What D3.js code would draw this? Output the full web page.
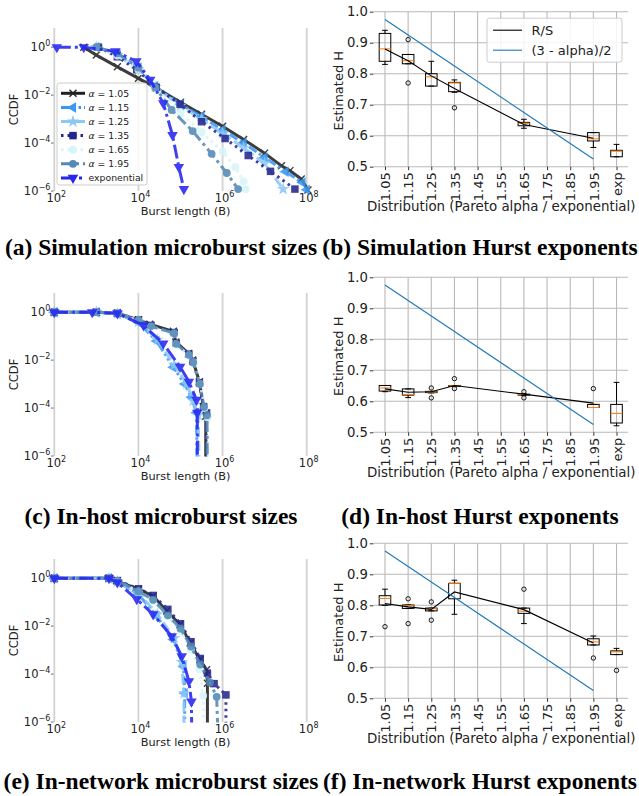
<!DOCTYPE html>
<html>
<head>
<meta charset="utf-8">
<script src="https://cdn.jsdelivr.net/npm/d3@7"></script>
<style>
body { margin: 0; background: #fff; }
svg { display: block; font-family: "DejaVu Sans", sans-serif; }
</style>
</head>
<body>
<div id="canvas"></div>
<script>
// ---------- data ----------
// legend entries of the CCDF plots
const alphaLabels = ["1.05", "1.15", "1.25", "1.35", "1.65", "1.95"];
const expLabel = "exponential";

// CCDF curves as [log10(burst length), log10(CCDF)]
// order: a=1.05, 1.15, 1.25, 1.35, 1.65, 1.95, exponential
const simCurves = [
  [[2.7,0],[3.0,-0.33],[3.5,-0.82],[4.0,-1.3],[4.43,-1.71],[5.0,-2.3],[5.5,-2.8],[6.0,-3.3],[6.5,-3.85],[7.0,-4.42],[7.4,-4.95],[7.6,-5.15],[7.87,-5.5],[8.03,-5.96]],
  [[3.0,0],[3.5,-0.28],[4.0,-0.85],[4.4,-1.62],[5.0,-2.38],[5.5,-2.9],[6.0,-3.45],[6.5,-4.0],[7.0,-4.6],[7.5,-5.2],[7.9,-5.65],[8.0,-5.95]],
  [[3.0,0],[3.5,-0.33],[4.0,-0.92],[4.4,-1.66],[5.0,-2.45],[5.5,-3.0],[6.0,-3.6],[6.5,-4.2],[7.0,-4.85],[7.44,-5.92]],
  [[3.05,0],[3.5,-0.4],[3.96,-0.94],[4.42,-1.67],[4.99,-2.38],[5.5,-3.11],[6.06,-3.81],[6.61,-4.52],[7.14,-5.18],[7.72,-5.92]],
  [[3.0,0],[3.5,-0.35],[4.0,-0.95],[4.4,-1.7],[5.0,-2.75],[5.5,-3.55],[6.0,-4.35],[6.3,-5.0],[6.5,-5.6],[6.55,-5.92]],
  [[3.0,0],[3.5,-0.25],[4.0,-0.85],[4.4,-1.68],[4.79,-2.62],[5.29,-3.5],[5.74,-4.45],[6.1,-5.25],[6.37,-5.92]],
  [[2.06,0],[2.7,0],[3.45,-0.17],[3.95,-0.59],[4.28,-1.36],[4.59,-2.34],[4.81,-3.67],[4.96,-5.0],[5.08,-5.92]]
];
const hostCurves = [
  [[2.0,0],[3.0,0],[3.5,-0.04],[4.0,-0.32],[4.27,-0.5],[4.83,-0.8],[4.89,-1.24],[5.19,-1.72],[5.29,-2.0],[5.45,-2.9],[5.54,-3.93],[5.6,-4.34],[5.6,-7]],
  [[2.0,0],[3.0,0],[3.5,-0.06],[4.0,-0.42],[4.43,-1.2],[4.83,-2.3],[5.1,-3.0],[5.26,-3.55],[5.38,-4.2],[5.4,-7]],
  [[2.0,0],[3.0,0],[3.5,-0.06],[4.0,-0.4],[4.45,-1.15],[4.85,-2.2],[5.15,-3.0],[5.3,-3.7],[5.42,-4.3],[5.45,-7]],
  [[2.0,0],[3.0,0],[3.5,-0.04],[4.0,-0.33],[4.3,-0.55],[4.85,-0.85],[4.9,-1.3],[5.2,-1.75],[5.3,-2.05],[5.45,-2.95],[5.55,-3.95],[5.62,-4.2],[5.62,-7]],
  [[2.0,0],[3.0,0],[3.5,-0.04],[4.0,-0.35],[4.3,-0.6],[4.85,-0.9],[4.9,-1.35],[5.2,-1.8],[5.32,-2.1],[5.47,-3.0],[5.57,-4.0],[5.65,-4.4],[5.66,-7]],
  [[2.0,0],[3.0,0],[3.5,-0.05],[4.0,-0.35],[4.3,-0.58],[4.85,-0.88],[4.9,-1.32],[5.2,-1.78],[5.3,-2.1],[5.46,-3.0],[5.56,-3.95],[5.63,-4.3],[5.64,-7]],
  [[2.0,0],[2.9,0],[3.5,-0.05],[4.12,-0.55],[4.59,-1.31],[4.99,-2.28],[5.2,-2.9],[5.38,-3.66],[5.4,-4.2],[5.4,-7]]
];
const netCurves = [
  [[2.0,0],[3.3,0],[3.48,-0.11],[4.0,-0.46],[4.35,-0.74],[4.67,-1.37],[4.99,-1.93],[5.23,-2.7],[5.46,-3.4],[5.62,-3.82],[5.64,-4.38],[5.64,-7]],
  [[2.0,0],[3.3,0],[3.5,-0.15],[4.0,-0.67],[4.43,-1.58],[4.83,-2.56],[5.07,-3.68],[5.1,-4.8],[5.1,-7]],
  [[2.0,0],[3.3,0],[3.5,-0.15],[4.0,-0.62],[4.45,-1.5],[4.85,-2.5],[5.03,-3.5],[5.08,-4.8],[5.08,-7]],
  [[2.0,0],[3.3,0],[3.5,-0.1],[4.0,-0.44],[4.35,-0.72],[4.7,-1.3],[5.0,-1.9],[5.25,-2.65],[5.47,-3.35],[5.64,-3.96],[5.8,-4.4],[6.08,-4.87],[6.08,-7]],
  [[2.0,0],[3.3,0],[3.5,-0.12],[4.0,-0.55],[4.35,-0.95],[4.7,-1.6],[5.0,-2.2],[5.25,-3.0],[5.45,-3.8],[5.54,-4.9],[5.56,-7]],
  [[2.0,0],[3.3,0],[3.5,-0.12],[4.0,-0.55],[4.35,-0.9],[4.7,-1.55],[5.0,-2.1],[5.25,-2.85],[5.47,-3.6],[5.7,-4.35],[5.86,-4.95],[5.9,-7]],
  [[2.0,0],[3.3,0],[3.5,-0.18],[3.96,-0.88],[4.35,-1.51],[4.79,-2.42],[5.03,-3.26],[5.2,-4.3],[5.26,-5.15],[5.27,-7]]
];
const ccdfXTicks = [2, 4, 6, 8];      // exponents
const ccdfYTicks = [0, -2, -4, -6];

// Hurst boxplots
const boxPositions = [1.05, 1.15, 1.25, 1.35, 1.65, 1.95, 2.05];
const hurstTickPos = [1.05, 1.15, 1.25, 1.35, 1.45, 1.55, 1.65, 1.75, 1.85, 1.95, 2.05];
const hurstTickLabels = ["1.05", "1.15", "1.25", "1.35", "1.45", "1.55", "1.65", "1.75", "1.85", "1.95", "exp"];
const hurstYTicks = [0.5, 0.6, 0.7, 0.8, 0.9, 1.0];
const theoryAlphas = [1.05, 1.15, 1.25, 1.35, 1.65, 1.95];
const theoryH = [0.975, 0.925, 0.875, 0.825, 0.675, 0.525];

// each box: [whisker low, q1, median, q3, whisker high]
const simBoxes = [
  [0.83, 0.84, 0.88, 0.93, 0.94],
  [0.832, 0.832, 0.842, 0.862, 0.862],
  [0.76, 0.76, 0.79, 0.80, 0.84],
  [0.74, 0.742, 0.77, 0.772, 0.78],
  [0.624, 0.632, 0.64, 0.643, 0.653],
  [0.562, 0.583, 0.59, 0.61, 0.61],
  [0.532, 0.532, 0.55, 0.553, 0.572]
];
const simOutliers = [[], [0.91, 0.77], [], [0.69], [], [], []];
const simRS = [0.88, 0.842, 0.793, 0.752, 0.636, 0.592];

const hostBoxes = [
  [0.631, 0.633, 0.643, 0.651, 0.651],
  [0.612, 0.62, 0.622, 0.64, 0.64],
  [0.627, 0.628, 0.63, 0.632, 0.632],
  [0.648, 0.648, 0.65, 0.651, 0.651],
  [0.619, 0.62, 0.622, 0.623, 0.624],
  [0.58, 0.58, 0.58, 0.59, 0.59],
  [0.521, 0.53, 0.561, 0.59, 0.661]
];
const hostOutliers = [[], [], [0.643, 0.611], [0.673, 0.641], [0.631, 0.611], [0.641], []];
const hostRS = [0.64, 0.629, 0.631, 0.651, 0.623, 0.594];

const netBoxes = [
  [0.80, 0.801, 0.822, 0.831, 0.852],
  [0.79, 0.79, 0.799, 0.801, 0.801],
  [0.782, 0.782, 0.789, 0.791, 0.791],
  [0.771, 0.821, 0.871, 0.871, 0.881],
  [0.741, 0.774, 0.781, 0.791, 0.791],
  [0.672, 0.672, 0.682, 0.692, 0.701],
  [0.641, 0.641, 0.65, 0.653, 0.661]
];
const netOutliers = [[0.731], [0.821, 0.741], [0.811, 0.752], [], [0.852], [0.63], [0.59]];
const netRS = [0.806, 0.795, 0.787, 0.843, 0.786, 0.678];

const captions = [
  ["(a) Simulation microburst sizes", "(b) Simulation Hurst exponents"],
  ["(c) In-host microburst sizes", "(d) In-host Hurst exponents"],
  ["(e) In-network microburst sizes", "(f) In-network Hurst exponents"]
];

// ---------- styles / layout ----------
const seriesStyle = [
  { color: "#222222", dash: null, marker: "x" },
  { color: "#3a97f5", dash: "9,3,2.5,3,2.5,3", marker: "<" },
  { color: "#8cc8f5", dash: "10,4", marker: "*" },
  { color: "#25258f", dash: "2.5,4", marker: "s" },
  { color: "#d6f5f9", dash: "2.5,4", marker: "o" },
  { color: "#5389b7", dash: "11,4,3,4", marker: "o" },
  { color: "#2626f2", dash: "14,4,3,4", marker: "v" }
];
const ccdfTops = [28, 293, 559];
const ccdfH = 163;
const boxTops = [11.7, 277.3, 543.3];
const boxH = 155;
const captionBase = [255, 524, 789];
const captionX = [161, 480];

const W = 639, H = 796;
const svg = d3.select("#canvas").append("svg")
  .attr("width", W)
  .attr("height", H);

function drawMarker(g, type, cx, cy, color) {
  if (type === "x") {
    const s = 3.5;
    g.append("path")
      .attr("d", `M${cx - s},${cy - s}L${cx + s},${cy + s}M${cx - s},${cy + s}L${cx + s},${cy - s}`)
      .attr("stroke", color)
      .attr("stroke-width", 1.4)
      .attr("fill", "none");
    return;
  }
  let sym = d3.symbolCircle, size = 48, rot = 0;
  if (type === "<") { sym = d3.symbolTriangle; size = 48; rot = -90; }
  if (type === "v") { sym = d3.symbolTriangle; size = 48; rot = 180; }
  if (type === "s") { sym = d3.symbolSquare; size = 56; }
  if (type === "*") { sym = d3.symbolStar; size = 50; }
  g.append("path")
    .attr("d", d3.symbol(sym, size)())
    .attr("transform", `translate(${cx},${cy}) rotate(${rot})`)
    .attr("fill", color);
}

function powLabel(text, e) {
  text.append("tspan").text("10");
  text.append("tspan")
    .attr("dy", -5)
    .attr("font-size", 8)
    .text(e < 0 ? "\u2212" + (-e) : e);
}

function drawCcdf(row, curves, withLegend) {
  const top = ccdfTops[row];
  const bottom = top + ccdfH;
  const x = d3.scaleLog().domain([1e2, 1e8]).range([54.3, 306.7]);
  const y = d3.scaleLog().domain([1e-6, Math.pow(10, 0.8)]).range([bottom, top]);
  const g = svg.append("g");

  const clipId = "clip" + row;
  g.append("clipPath").attr("id", clipId)
    .append("rect")
    .attr("x", 40).attr("y", top)
    .attr("width", 290).attr("height", ccdfH + 0.5);

  // vertical grid
  g.selectAll(".vgrid")
    .data(ccdfXTicks)
    .enter().append("line")
    .attr("x1", d => x(Math.pow(10, d)))
    .attr("x2", d => x(Math.pow(10, d)))
    .attr("y1", top)
    .attr("y2", bottom)
    .attr("stroke", "#d2d2d2")
    .attr("stroke-width", 1.8);

  // y ticks + labels
  ccdfYTicks.forEach(e => {
    const yy = y(Math.pow(10, e));
    g.append("line")
      .attr("x1", 51).attr("x2", 53.5)
      .attr("y1", yy).attr("y2", yy)
      .attr("stroke", "#444").attr("stroke-width", 0.8);
    const t = g.append("text")
      .attr("x", 50.3).attr("y", yy + 3.6)
      .attr("text-anchor", "end")
      .attr("font-size", 11.5)
      .attr("fill", "#222");
    powLabel(t, e);
  });
  ccdfXTicks.forEach(e => {
    const t = g.append("text")
      .attr("x", x(Math.pow(10, e)) + 2)
      .attr("y", bottom + 10.5)
      .attr("text-anchor", "middle")
      .attr("font-size", 11.5)
      .attr("fill", "#222");
    powLabel(t, e);
  });

  g.append("text")
    .attr("x", (x.range()[0] + x.range()[1]) / 2 + 5)
    .attr("y", bottom + 24)
    .attr("text-anchor", "middle")
    .attr("font-size", 11.3)
    .attr("fill", "#222")
    .text("Burst length (B)");
  g.append("text")
    .attr("transform", `translate(18.3, ${(top + bottom) / 2}) rotate(-90)`)
    .attr("text-anchor", "middle")
    .attr("font-size", 11.5)
    .attr("fill", "#222")
    .text("CCDF");

  const line = d3.line()
    .x(d => x(Math.pow(10, d[0])))
    .y(d => y(Math.pow(10, d[1])));

  curves.forEach((c, i) => {
    const st = seriesStyle[i];
    const sg = g.append("g").attr("opacity", 0.88);
    sg.append("path")
      .attr("d", line(c))
      .attr("clip-path", `url(#${clipId})`)
      .attr("fill", "none")
      .attr("stroke", st.color)
      .attr("stroke-width", 3)
      .attr("stroke-dasharray", st.dash);
    c.filter(d => d[1] >= -6).forEach(d => {
      drawMarker(sg, st.marker, x(Math.pow(10, d[0])), y(Math.pow(10, d[1])), st.color);
    });
  });

  if (withLegend) {
    const lg = g.append("g");
    lg.append("rect")
      .attr("x", 57).attr("y", top + 55)
      .attr("width", 90).attr("height", 102)
      .attr("rx", 2.5)
      .attr("fill", "#fff").attr("fill-opacity", 0.85)
      .attr("stroke", "#cccccc");
    const names = alphaLabels.concat([expLabel]);
    names.forEach((n, i) => {
      const st = seriesStyle[i];
      const ly = top + 65.3 + i * 14.1;
      lg.append("line")
        .attr("x1", 61).attr("x2", 85)
        .attr("y1", ly).attr("y2", ly)
        .attr("stroke", st.color)
        .attr("stroke-width", 3)
        .attr("stroke-dasharray", st.dash);
      drawMarker(lg, st.marker, 73, ly, st.color);
      const t = lg.append("text")
        .attr("x", 88.5).attr("y", ly + 3.3)
        .attr("font-size", 9.3)
        .attr("fill", "#222");
      if (i < alphaLabels.length) {
        t.append("tspan").attr("font-style", "italic").text("\u03b1");
        t.append("tspan").text(" = " + n);
      } else {
        t.text(n);
      }
    });
  }
}

function drawHurst(row, boxes, outliers, rs, withLegend) {
  const top = boxTops[row];
  const bottom = top + boxH;
  const x = d3.scaleLinear().domain([1.0, 2.1]).range([373.4, 628.1]);
  const y = d3.scaleLinear().domain([0.5, 1.0]).range([bottom, top]);
  const g = svg.append("g");

  // grid
  g.selectAll(".hg").data(hurstYTicks).enter().append("line")
    .attr("x1", x(1.0)).attr("x2", x(2.1))
    .attr("y1", d => y(d)).attr("y2", d => y(d))
    .attr("stroke", "#b9b9b9").attr("stroke-width", 1.1);
  g.selectAll(".vg").data(hurstTickPos).enter().append("line")
    .attr("x1", d => x(d)).attr("x2", d => x(d))
    .attr("y1", top).attr("y2", bottom)
    .attr("stroke", "#b9b9b9").attr("stroke-width", 1.1);

  // axes
  const yAxis = g.append("g")
    .attr("transform", `translate(${x(1.0)},0)`)
    .call(d3.axisLeft(y).tickValues(hurstYTicks).tickSize(3.5).tickPadding(2).tickFormat(d3.format(".1f")));
  yAxis.select(".domain").remove();
  yAxis.selectAll("line").attr("stroke", "#333");
  yAxis.selectAll("text").attr("font-size", 13.2).attr("fill", "#222").attr("font-family", "DejaVu Sans");

  const xAxis = g.append("g")
    .attr("transform", `translate(0,${bottom})`)
    .call(d3.axisBottom(x).tickValues(hurstTickPos).tickSize(3.5).tickFormat((d, i) => hurstTickLabels[i]));
  xAxis.select(".domain").remove();
  xAxis.selectAll("line").attr("stroke", "#333");
  xAxis.selectAll("text")
    .attr("font-size", 13).attr("fill", "#222").attr("font-family", "DejaVu Sans")
    .attr("transform", "rotate(-90)")
    .attr("text-anchor", "end")
    .attr("x", -5.5).attr("y", 0).attr("dy", "0.36em");

  g.append("text")
    .attr("x", (x(1.0) + x(2.1)) / 2 + 0.5)
    .attr("y", bottom + 44.5)
    .attr("text-anchor", "middle")
    .attr("font-size", 13.4)
    .attr("fill", "#222")
    .text("Distribution (Pareto alpha / exponential)");
  g.append("text")
    .attr("transform", `translate(343, ${(top + bottom) / 2 + 1.5}) rotate(-90)`)
    .attr("text-anchor", "middle")
    .attr("font-size", 13)
    .attr("fill", "#222")
    .text("Estimated H");

  // boxes
  const hw = (x(1.075) - x(1.05));
  boxes.forEach((b, i) => {
    const cx = x(boxPositions[i]);
    const bg = g.append("g");
    bg.append("line").attr("x1", cx).attr("x2", cx).attr("y1", y(b[0])).attr("y2", y(b[1])).attr("stroke", "#000");
    bg.append("line").attr("x1", cx).attr("x2", cx).attr("y1", y(b[3])).attr("y2", y(b[4])).attr("stroke", "#000");
    bg.append("line").attr("x1", cx - hw / 2).attr("x2", cx + hw / 2).attr("y1", y(b[0])).attr("y2", y(b[0])).attr("stroke", "#000");
    bg.append("line").attr("x1", cx - hw / 2).attr("x2", cx + hw / 2).attr("y1", y(b[4])).attr("y2", y(b[4])).attr("stroke", "#000");
    bg.append("rect")
      .attr("x", cx - hw).attr("y", y(b[3]))
      .attr("width", 2 * hw).attr("height", Math.max(0.8, y(b[1]) - y(b[3])))
      .attr("fill", "none").attr("stroke", "#000").attr("stroke-width", 1);
    bg.append("line").attr("x1", cx - hw).attr("x2", cx + hw).attr("y1", y(b[2])).attr("y2", y(b[2]))
      .attr("stroke", "#ff7f0e").attr("stroke-width", 1.1);
    outliers[i].forEach(o => {
      bg.append("circle").attr("cx", cx).attr("cy", y(o)).attr("r", 2.2)
        .attr("fill", "none").attr("stroke", "#000").attr("stroke-width", 0.9);
    });
  });

  const line = d3.line().x((d, i) => x(theoryAlphas[i])).y(d => y(d));
  g.append("path").attr("d", line(rs)).attr("fill", "none").attr("stroke", "#000").attr("stroke-width", 1.1);
  g.append("path").attr("d", line(theoryH)).attr("fill", "none").attr("stroke", "#1f77b4").attr("stroke-width", 1.1);

  if (withLegend) {
    const lg = g.append("g");
    lg.append("rect")
      .attr("x", 487).attr("y", top + 6.5)
      .attr("width", 135).attr("height", 44)
      .attr("rx", 2.5)
      .attr("fill", "#fff").attr("fill-opacity", 0.85)
      .attr("stroke", "#cccccc");
    [["R/S", "#000"], ["(3 - alpha)/2", "#1f77b4"]].forEach((e, i) => {
      const ly = top + 18.5 + i * 20;
      lg.append("line").attr("x1", 493).attr("x2", 522).attr("y1", ly).attr("y2", ly)
        .attr("stroke", e[1]).attr("stroke-width", 1.1);
      lg.append("text").attr("x", 531.5).attr("y", ly + 4.7)
        .attr("font-size", 13).attr("fill", "#222").text(e[0]);
    });
  }
}

drawCcdf(0, simCurves, true);
drawCcdf(1, hostCurves, false);
drawCcdf(2, netCurves, false);
drawHurst(0, simBoxes, simOutliers, simRS, true);
drawHurst(1, hostBoxes, hostOutliers, hostRS, false);
drawHurst(2, netBoxes, netOutliers, netRS, false);

captions.forEach((pair, r) => {
  pair.forEach((c, k) => {
    svg.append("text")
      .attr("x", captionX[k])
      .attr("y", captionBase[r])
      .attr("text-anchor", "middle")
      .attr("font-family", "Liberation Serif, serif")
      .attr("font-weight", "bold")
      .attr("font-size", 23.5)
      .attr("fill", "#000")
      .text(c);
  });
});
</script>
</body>
</html>
